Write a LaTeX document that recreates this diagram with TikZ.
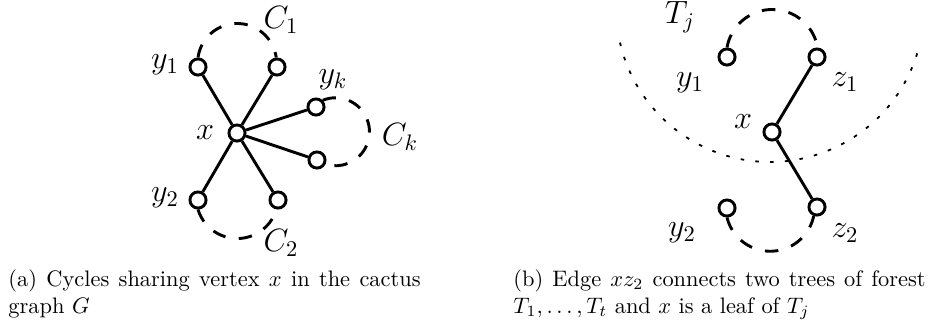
\documentclass[tikz,border=0pt]{standalone}
\begin{document}
\begin{tikzpicture}[x=0.4464pt,y=-0.4464pt,
  v/.style={circle,draw,line width=1.3pt,minimum size=7.2pt,inner sep=0pt},
  ed/.style={line width=1.3pt},
  cyc/.style={line width=1.3pt,dash pattern=on 6pt off 6pt},
  dots/.style={line width=0.8pt,dash pattern=on 1.6pt off 5pt},
  lab/.style={font=\Large,inner sep=0pt},
  captext/.style={anchor=base west,inner sep=0pt,text width=184pt,align=justify,font=\normalsize}]
\useasboundingbox (0,0) rectangle (930,321);
% ---- (a) ----
\node[v] (xa) at (237,133) {};
\node[v] (a1) at (198,67) {};
\node[v] (a2) at (277,67) {};
\node[v] (k1) at (316,107) {};
\node[v] (k2) at (317,160) {};
\node[v] (b1) at (198,200) {};
\node[v] (b2) at (278,200) {};
\foreach \n in {a1,a2,k1,k2,b1,b2} \draw[ed] (xa) -- (\n);
\draw[cyc] (a1.north) arc[start angle=-172,end angle=-8,radius=39.5];
\draw[cyc] (k1.45) arc[start angle=-112,end angle=107,radius=34];
\draw[cyc] (b1.south) arc[start angle=163,end angle=18,radius=41];
\node[lab] (ly1) at (165,65) {$y_1$};
\node[lab] (lc1) at (281,20) {$C_1$};
\node[lab] (lyk) at (333,80) {$y_k$};
\node[lab] (lxa) at (205,133) {$x$};
\node[lab] (lck) at (400,137) {$C_k$};
\node[lab] (ly2) at (165,198) {$y_2$};
\node[lab] (lc2) at (281,243) {$C_2$};
% ---- (b) ----
\node[v] (ry1) at (727,57) {};
\node[v] (rz1) at (817,57) {};
\node[v] (rx) at (772,132) {};
\node[v] (ry2) at (727,208) {};
\node[v] (rz2) at (817,207) {};
\draw[ed] (rz1) -- (rx) -- (rz2);
\draw[cyc] (ry1.north) arc[start angle=-170,end angle=-10,radius=46];
\draw[cyc] (ry2.south) arc[start angle=166,end angle=12,radius=44.5];
\coordinate (dotstart) at (620,42.6);
\draw[dots] (dotstart) arc[start angle=167,end angle=14,radius=154];
\node[lab] (ltj) at (680,17) {$T_j$};
\node[lab] (lry1) at (690,83) {$y_1$};
\node[lab] (lrz1) at (845,82) {$z_1$};
\node[lab] (lrx) at (743,122) {$x$};
\node[lab] (lry2) at (682,233) {$y_2$};
\node[lab] (lrz2) at (845,233) {$z_2$};
% ---- captions ----
\node[captext] (capa) at (8,286.5) {(a) Cycles sharing vertex $x$ in the cactus graph $G$};
\node[captext] (capb) at (513,286.5) {\hyphenpenalty=10000 (b) Edge $xz_2$ connects two trees of forest $T_1,\ldots,T_t$ and $x$ is a leaf of $T_j$};
\end{tikzpicture}
\end{document}
